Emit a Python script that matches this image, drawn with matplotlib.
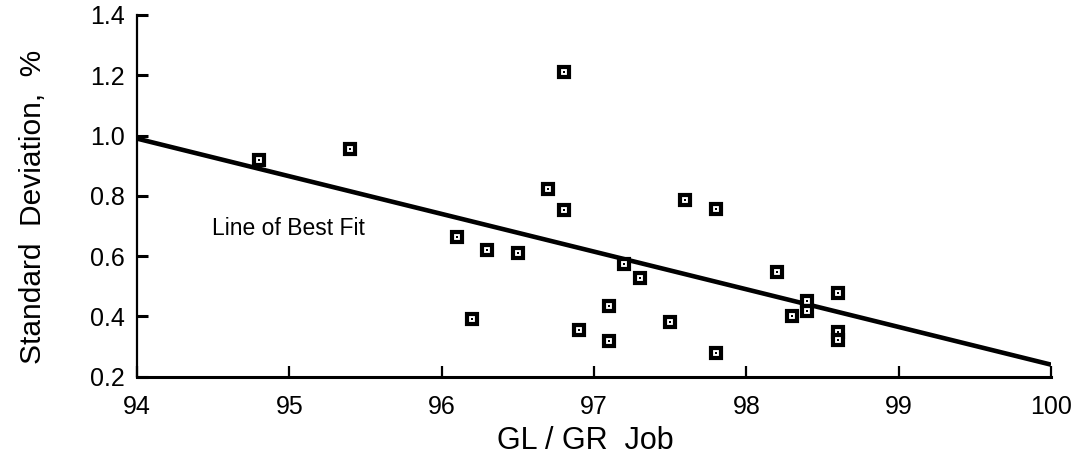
import matplotlib
matplotlib.use("Agg")
import matplotlib.pyplot as plt

plt.rcParams['font.family'] = ['Liberation Sans', 'DejaVu Sans']

# Data
gl_gr = [94.8, 95.4, 96.1, 96.2, 96.3, 96.5, 96.7, 96.8, 96.8, 96.9,
         97.1, 97.1, 97.2, 97.3, 97.5, 97.6, 97.8, 97.8, 98.2, 98.3,
         98.4, 98.4, 98.6, 98.6, 98.6]
std_dev = [0.92, 0.955, 0.665, 0.39, 0.62, 0.61, 0.823, 1.21, 0.752, 0.355,
           0.434, 0.319, 0.574, 0.528, 0.382, 0.787, 0.758, 0.278, 0.548, 0.401,
           0.45, 0.418, 0.478, 0.349, 0.322]
fit_x = [94.0, 100.0]
fit_y = [0.99, 0.24]

x_ticks = [94, 95, 96, 97, 98, 99, 100]
y_ticks = [0.2, 0.4, 0.6, 0.8, 1.0, 1.2, 1.4]
y_tick_labels = ['0.2', '0.4', '0.6', '0.8', '1.0', '1.2', '1.4']

fig = plt.figure(figsize=(10.81, 4.61), dpi=100)
ax = fig.add_axes([137/1081, 1 - 376.7/461, (1051-137)/1081, (376.7-15)/461])

ax.plot(fit_x, fit_y, color='black', linewidth=3.3, solid_capstyle='butt', zorder=2)
ax.plot(gl_gr, std_dev, linestyle='none', marker='s', markersize=7.2,
        markerfacecolor='white', markeredgecolor='black', markeredgewidth=3.0, zorder=3)
ax.plot(gl_gr, std_dev, linestyle='none', marker='s', markersize=2.0,
        markerfacecolor='black', markeredgecolor='black', markeredgewidth=0, zorder=4)

ax.text(94.49, 0.671, 'Line of Best Fit', fontsize=16.5, ha='left', va='baseline')

ax.set_xlim(94, 100)
ax.set_ylim(0.2, 1.4)
ax.set_xticks(x_ticks)
ax.set_xticklabels([str(t) for t in x_ticks])
ax.set_yticks(y_ticks)
ax.set_yticklabels(y_tick_labels)

for s in ['top', 'right']:
    ax.spines[s].set_visible(False)
ax.spines['left'].set_linewidth(1.6)
ax.spines['bottom'].set_linewidth(2.2)

ax.tick_params(axis='x', direction='in', length=8, width=1.6, labelsize=18, pad=13)
ax.tick_params(axis='y', direction='in', length=8, width=2.2, labelsize=18, pad=9)

ax.set_xlabel('GL / GR  Job', fontsize=22)
ax.xaxis.set_label_coords(0.49, -0.135)
ax.set_ylabel('Standard  Deviation,  %', fontsize=21.5)
ax.yaxis.set_label_coords(-0.098, 0.47)

fig.savefig('out.png', dpi=100)
